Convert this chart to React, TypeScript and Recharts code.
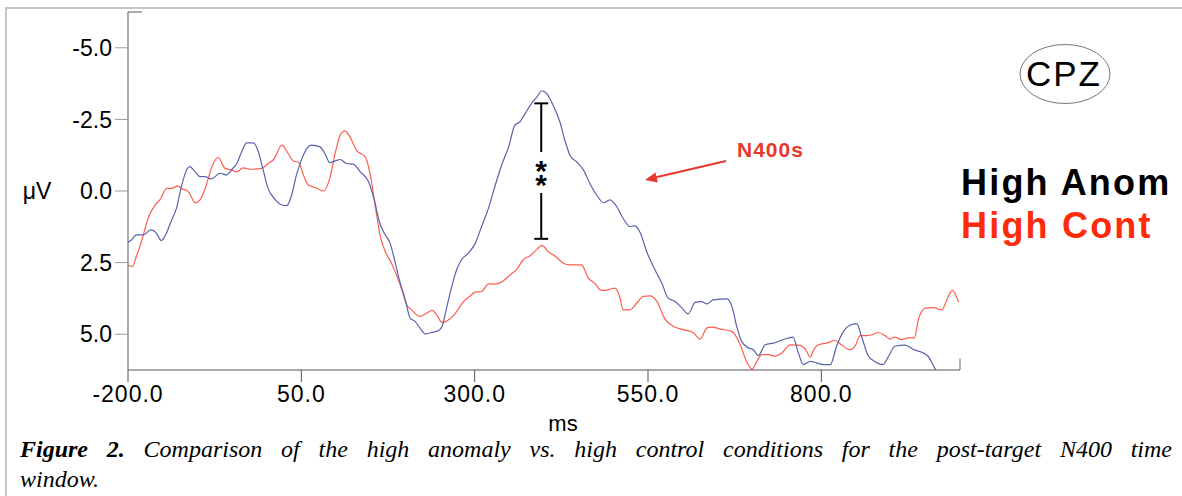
import { LineChart, Line, XAxis, YAxis, ReferenceLine } from "recharts";

// ERP waveforms at CPZ (ms, µV; negative plotted up)
const anomTimes = [
  -200, -195, -188, -178, -167, -159, -152, -147, -137, -130, -123, -115, -111, -103, -96, -89, -80, -67, -58, -50,
  -43, -36, -29, -19, -12, -5, 2, 12, 22, 29, 36, 43, 51, 58, 65, 77, 84, 91, 99, 106,
  115, 125, 135, 147, 154, 164, 171, 178, 185, 192, 200, 207, 214, 221, 229, 238, 248, 253, 260, 267,
  274, 281, 291, 301, 310, 320, 329, 339, 349, 358, 365, 373, 382, 390, 397, 404, 413, 423, 430, 438,
  447, 457, 466, 476, 486, 495, 505, 514, 524, 531, 539, 548, 560, 570, 579, 589, 599, 608, 618, 627,
  635, 644, 664, 671, 678, 685, 695, 702, 709, 719, 731, 745, 759, 767, 774, 784, 793, 803, 813, 822,
  832, 841, 851, 858, 868, 877, 889, 897, 906, 921, 933, 945, 954, 964, 980, 1000,
];
const anomValues = [
  1.79, 1.71, 1.53, 1.53, 1.36, 1.47, 1.73, 1.59, 1.01, 0.6, -0.15, -0.76, -0.85, -0.67, -0.5, -0.5, -0.42, -0.62, -0.56, -0.76,
  -0.96, -1.37, -1.68, -1.68, -1.37, -0.73, -0.09, 0.29, 0.49, 0.51, 0.14, -0.56, -1.14, -1.49, -1.6, -1.54, -1.31, -0.99, -1.05, -1.1,
  -0.96, -0.94, -0.67, -0.32, 0.2, 1.18, 1.53, 1.82, 2.46, 3.16, 3.8, 4.44, 4.55, 4.78, 4.99, 4.94, 4.87, 4.73, 4.03, 3.33,
  2.75, 2.4, 2.17, 1.82, 1.24, 0.6, -0.15, -0.91, -1.54, -2.3, -2.41, -2.71, -3.06, -3.29, -3.5, -3.4, -3.0, -2.41, -1.78, -1.22,
  -1.02, -0.73, -0.27, 0.14, 0.41, 0.31, 0.55, 0.95, 1.24, 1.22, 1.47, 2.11, 2.75, 3.22, 3.74, 3.86, 4.09, 4.29, 3.89, 3.86,
  3.94, 3.8, 3.77, 4.03, 4.73, 5.25, 5.48, 5.54, 5.75, 5.37, 5.31, 5.19, 5.1, 5.66, 6.06, 5.95, 6.0, 6.06, 6.06, 5.42,
  4.9, 4.69, 4.63, 5.08, 5.77, 5.95, 6.06, 5.77, 5.42, 5.38, 5.54, 5.63, 5.77, 6.2, 6.7, 7.2,
];

const contTimes = [
  -200, -194, -188, -180, -171, -161, -154, -144, -137, -128, -123, -113, -103, -96, -87, -79, -70, -60, -50, -43,
  -34, -24, -14, -7, 2, 10, 22, 31, 38, 46, 53, 60, 70, 82, 91, 99, 106, 113, 120, 130,
  142, 149, 156, 164, 171, 180, 188, 195, 202, 209, 221, 231, 239, 245, 253, 264, 274, 284, 293, 301,
  310, 320, 329, 341, 351, 361, 370, 380, 390, 397, 406, 418, 428, 437, 447, 454, 464, 473, 483, 492,
  502, 509, 514, 524, 534, 543, 553, 563, 575, 587, 601, 615, 625, 635, 642, 654, 671, 683, 692, 700,
  707, 714, 724, 733, 743, 755, 767, 777, 784, 789, 796, 808, 820, 829, 841, 849, 856, 865, 873, 882,
  892, 899, 906, 916, 925, 934, 940, 950, 962, 974, 981, 989, 998,
];
const contValues = [
  2.6, 2.64, 2.29, 1.71, 0.95, 0.49, 0.31, -0.09, -0.09, -0.18, -0.09, 0.02, 0.41, 0.31, -0.21, -0.85, -1.17, -0.79, -0.73, -0.67,
  -0.81, -0.76, -0.77, -0.79, -0.96, -1.1, -1.6, -1.31, -1.06, -1.0, -0.56, -0.21, -0.12, 0.0, -0.44, -1.34, -1.95, -2.1, -1.89, -1.4,
  -1.2, -0.62, 0.43, 1.59, 2.11, 2.52, 2.98, 3.45, 3.97, 4.15, 4.38, 4.26, 4.17, 4.32, 4.59, 4.47, 4.21, 3.86, 3.68, 3.53,
  3.51, 3.24, 3.25, 3.14, 2.93, 2.73, 2.4, 2.26, 2.03, 1.9, 2.11, 2.31, 2.52, 2.58, 2.58, 2.58, 3.04, 3.22, 3.47, 3.45,
  3.39, 3.68, 4.15, 4.15, 3.91, 3.68, 3.66, 3.86, 4.49, 4.73, 4.84, 4.94, 5.17, 4.78, 4.75, 4.82, 4.9, 5.37, 5.95, 6.22,
  5.95, 5.71, 5.71, 5.77, 5.66, 5.37, 5.38, 5.52, 5.8, 5.54, 5.37, 5.31, 5.22, 5.37, 5.54, 5.4, 5.05, 5.05, 5.02, 4.94,
  5.05, 5.17, 5.1, 5.19, 5.13, 5.13, 4.49, 4.09, 4.07, 4.15, 3.8, 3.47, 3.89,
];

const xTicks = [-200, 50, 300, 550, 800];
const yTicks = [-5, -2.5, 0, 2.5, 5];
const xDomain = [-200, 1000];
const yDomain = [-6.25, 6.25];

// significance bracket (ms, µV)
const sigTime = 396;
const sigTop = -3.06;
const sigBottom = 1.67;
const sigGapTop = -1.36;
const sigGapBottom = 0.07;

const anomData = anomTimes.map((t, i) => ({ t, v: anomValues[i] }));
const contData = contTimes.map((t, i) => ({ t, v: contValues[i] }));

const SANS = "'Liberation Sans', Arial, sans-serif";
const yTickFont = { fill: "#000", fontSize: 23, fontFamily: SANS };
const xTickFont = { fill: "#000", fontSize: 23, fontFamily: SANS, letterSpacing: 1 };

export default function App() {
  return (
    <div
      style={{
        position: "absolute",
        left: 0,
        top: 0,
        width: 1182,
        height: 496,
        overflow: "hidden",
        background: "#fff",
      }}
    >
      <div
        style={{
          position: "absolute",
          left: 5,
          top: 7,
          width: 1200,
          height: 520,
          border: "2px solid #c6c6c6",
        }}
      />

      <div style={{ position: "absolute", left: 0, top: 0 }}>
        <LineChart width={1182} height={460} margin={{ top: 12, right: 222, bottom: 50, left: 0 }}>
          <XAxis
            type="number"
            dataKey="t"
            domain={xDomain}
            ticks={xTicks}
            allowDataOverflow
            tickFormatter={(v) => Number(v).toFixed(1)}
            tick={xTickFont}
            tickSize={12}
            tickMargin={4}
            height={40}
            stroke="#555"
          />
          <YAxis
            type="number"
            dataKey="v"
            domain={yDomain}
            ticks={yTicks}
            reversed
            allowDataOverflow
            tickFormatter={(v) => Number(v).toFixed(1)}
            tick={yTickFont}
            tickLine={{ stroke: "#999" }}
            tickSize={13}
            tickMargin={3}
            width={128}
            stroke="#555"
          />
          {/* axis end markers */}
          <ReferenceLine
            segment={[{ x: -200, y: -6.25 }, { x: -180, y: -6.25 }]}
            stroke="#555"
            ifOverflow="visible"
          />
          <ReferenceLine
            segment={[{ x: 1000, y: 6.25 }, { x: 1000, y: 5.85 }]}
            stroke="#666"
            ifOverflow="visible"
          />
          <Line
            data={contData}
            dataKey="v"
            type="monotone"
            stroke="#ff5d4f"
            strokeWidth={1.2}
            dot={false}
            isAnimationActive={false}
          />
          <Line
            data={anomData}
            dataKey="v"
            type="monotone"
            stroke="#5a62ad"
            strokeWidth={1.2}
            dot={false}
            isAnimationActive={false}
          />
          {/* significance bracket */}
          <ReferenceLine segment={[{ x: sigTime, y: sigTop }, { x: sigTime, y: sigGapTop }]} stroke="#000" strokeWidth={2} />
          <ReferenceLine segment={[{ x: sigTime, y: sigGapBottom }, { x: sigTime, y: sigBottom }]} stroke="#000" strokeWidth={2} />
          <ReferenceLine segment={[{ x: sigTime - 10, y: sigTop }, { x: sigTime + 10, y: sigTop }]} stroke="#000" strokeWidth={2} />
          <ReferenceLine segment={[{ x: sigTime - 10, y: sigBottom }, { x: sigTime + 10, y: sigBottom }]} stroke="#000" strokeWidth={2} />
        </LineChart>
      </div>

      <svg width={1182} height={496} style={{ position: "absolute", left: 0, top: 0, pointerEvents: "none" }}>
        <text x={541} y={181} textAnchor="middle" fontFamily={SANS} fontWeight="bold" fontSize={30} fill="#000">
          <tspan x={541} y={181}>*</tspan>
          <tspan x={541} y={195}>*</tspan>
        </text>

        <line x1={726} y1={161} x2={655} y2={177.5} stroke="#e8392c" strokeWidth={2} />
        <polygon points="645,180 657.8,182.4 655.5,172.4" fill="#e8392c" />
        <text x={737} y={157} fontFamily={SANS} fontWeight="bold" fontSize={21} letterSpacing={1} fill="#e8392c">N400s</text>

        <ellipse cx={1065} cy={74} rx={45} ry={29.5} fill="none" stroke="#777" strokeWidth={1} />
        <text x={1064} y={86} textAnchor="middle" fontFamily={SANS} fontSize={35} letterSpacing={2} fill="#000">CPZ</text>

        <text x={961} y={195} fontFamily={SANS} fontWeight="bold" fontSize={36} letterSpacing={2.2} fill="#000">High Anom</text>
        <text x={961} y={238} fontFamily={SANS} fontWeight="bold" fontSize={36} letterSpacing={2.2} fill="#ff2a0a">High Cont</text>

        <text x={37} y={199} textAnchor="middle" fontFamily={SANS} fontSize={23} fill="#000">μV</text>
        <text x={563} y={431} textAnchor="middle" fontFamily={SANS} fontSize={22} fill="#000">ms</text>
      </svg>

      <div
        style={{
          position: "absolute",
          left: 20,
          top: 434,
          width: 1152,
          fontFamily: "'Liberation Serif', 'Times New Roman', serif",
          fontStyle: "italic",
          fontSize: 24,
          lineHeight: "30px",
          color: "#000",
        }}
      >
        <div style={{ textAlign: "justify", textAlignLast: "justify", whiteSpace: "nowrap" }}>
          <b>Figure 2.</b> Comparison of the high anomaly vs. high control conditions for the post-target N400 time
        </div>
        <div>window.</div>
      </div>
    </div>
  );
}
